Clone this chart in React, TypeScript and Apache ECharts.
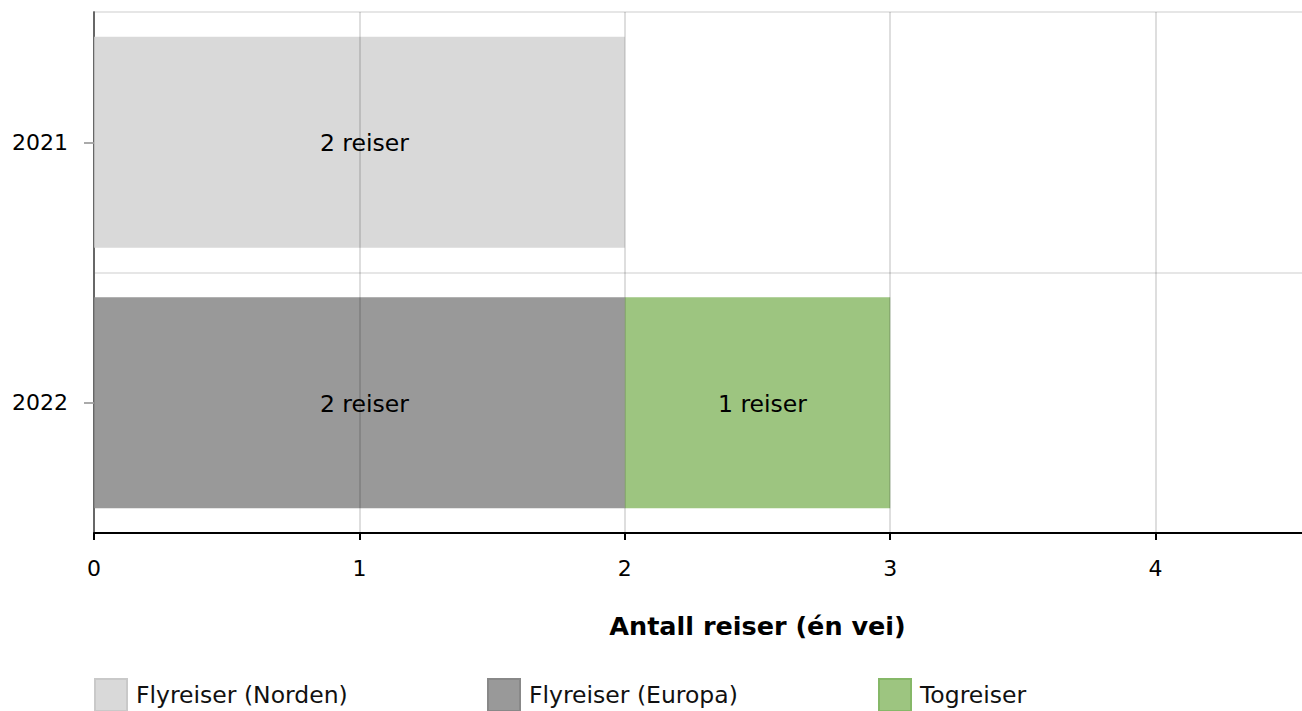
import React, { useEffect, useRef } from "react";
import * as echarts from "echarts";

const categories = ["2021", "2022"];
const seriesNames = ["Flyreiser (Norden)", "Flyreiser (Europa)", "Togreiser"];
const nordenValues: (number | null)[] = [2, null];
const europaValues: (number | null)[] = [null, 2];
const togValues: (number | null)[] = [null, 1];
const xTicks = [0, 1, 2, 3, 4];
const xMax = 5;
const axisTitle = "Antall reiser (én vei)";

const colors = ["#d9d9d9", "#999999", "#9dc580"];
const borders = ["#c9c9c9", "#888888", "#86b868"];
const FONT = "DejaVu Sans, Verdana, sans-serif";

export default function App() {
  const ref = useRef<HTMLDivElement>(null);
  useEffect(() => {
    document.body.style.margin = "0";
    document.body.style.overflow = "hidden";
    const chart = echarts.init(ref.current!, undefined, { renderer: "svg" });
    const values = [nordenValues, europaValues, togValues];
    const legendLefts = [94, 487, 878];
    chart.setOption({
      animation: false,
      textStyle: { fontFamily: FONT },
      grid: { left: 94, width: 1330, top: 12, bottom: 178, containLabel: false },
      legend: seriesNames.map((n, i) => ({
        left: legendLefts[i],
        top: 678,
        icon: "rect",
        itemWidth: 32,
        itemHeight: 32,
        itemGap: 10,
        selectedMode: false,
        textStyle: { fontSize: 23.5, color: "#111", fontFamily: FONT, padding: [0, 0, 0, 4] },
        data: [{ name: n, itemStyle: { color: colors[i], borderColor: borders[i], borderWidth: 2 } }],
        padding: 0,
      })),
      xAxis: {
        type: "value",
        min: 0,
        max: xMax,
        interval: 1,
        z: 3,
        name: axisTitle,
        nameLocation: "middle",
        nameGap: 80,
        nameTextStyle: { fontSize: 25.5, fontWeight: "bold", color: "#000", fontFamily: FONT },
        axisLine: { show: true, lineStyle: { color: "#000", width: 2 } },
        axisTick: { show: true, length: 7, lineStyle: { color: "#000", width: 2 } },
        axisLabel: {
          fontSize: 22,
          color: "#000",
          margin: 24,
          formatter: (v: number) => (xTicks.includes(v) ? String(v) : ""),
        },
        splitLine: { show: true, lineStyle: { color: "rgba(0,0,0,0.13)", width: 2 } },
      },
      yAxis: {
        type: "category",
        data: categories,
        inverse: true,
        axisLine: { show: true, lineStyle: { color: "#777", width: 2 } },
        axisTick: { show: true, alignWithLabel: true, length: 10, lineStyle: { color: "#aaa", width: 2 } },
        axisLabel: { fontSize: 22, color: "#000", margin: 26 },
        splitLine: { show: true, lineStyle: { color: "#e6e6e6", width: 2 } },
      },
      series: seriesNames.map((n, i) => ({
        name: n,
        type: "bar",
        stack: "total",
        barCategoryGap: "19%",
        data: values[i],
        itemStyle: { color: colors[i] },
        label: {
          show: true,
          position: "inside",
          offset: [5, 1],
          fontSize: 23.5,
          color: "#000",
          fontFamily: FONT,
          formatter: (p: any) => `${p.value} reiser`,
        },
      })),
    });
    return () => chart.dispose();
  }, []);
  return <div ref={ref} style={{ width: 1424, height: 711 }} />;
}
